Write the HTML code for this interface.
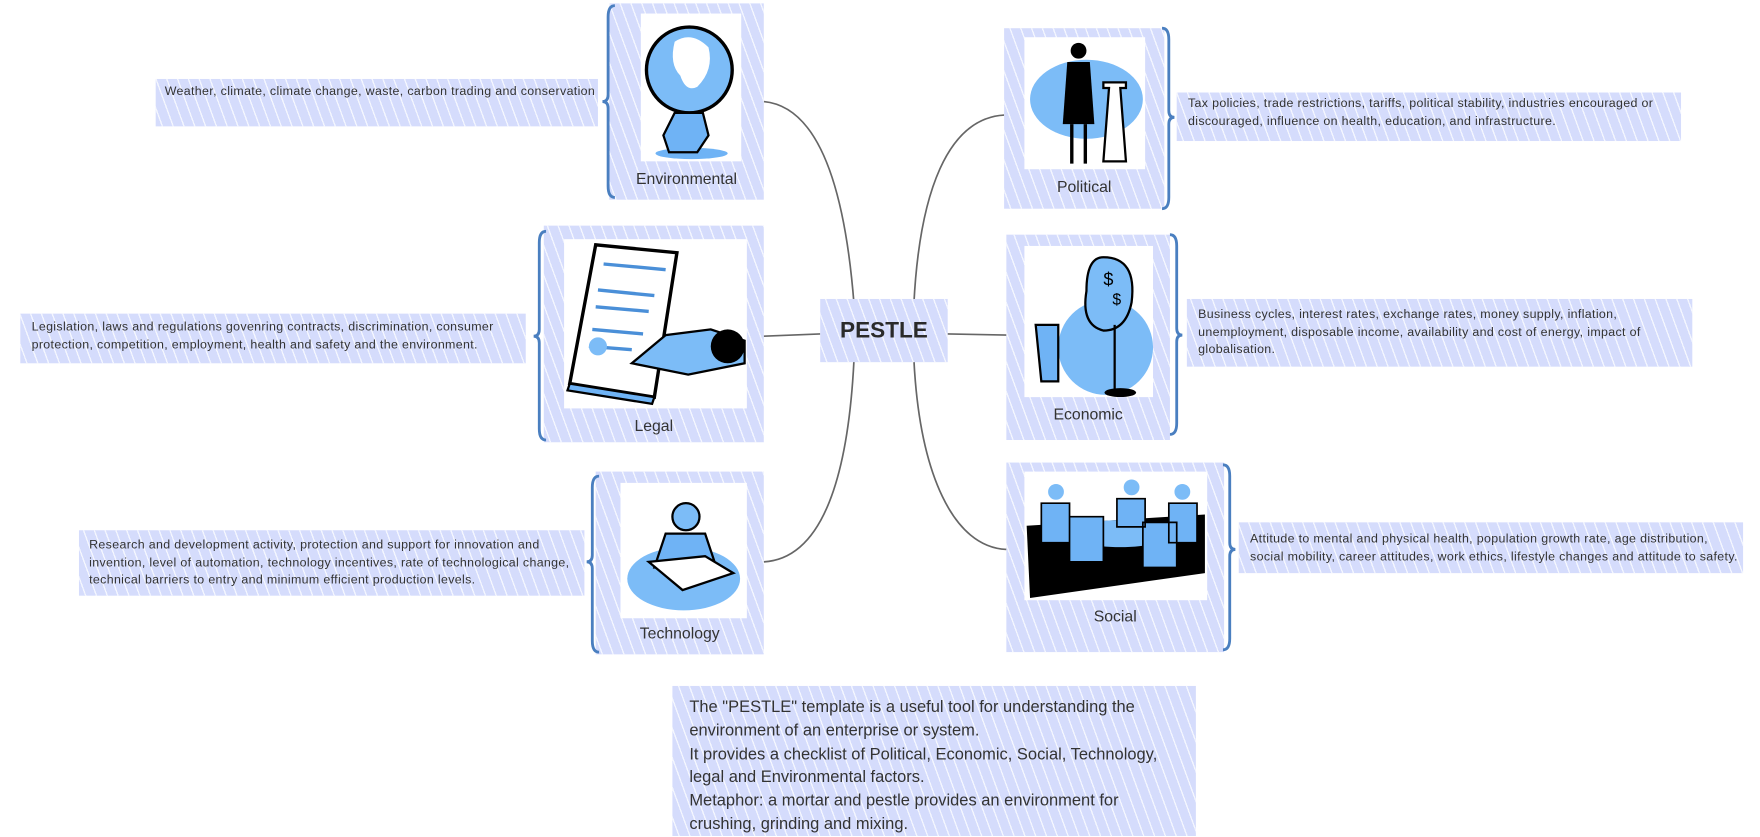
<!DOCTYPE html>
<html><head><meta charset="utf-8">
<style>
html,body{margin:0;padding:0;background:#fff;width:1760px;height:836px;overflow:hidden}
#wrap{position:absolute;left:0;top:0;width:1560px;height:741px;transform:scale(1.1282);transform-origin:0 0;font-family:"Liberation Sans","DejaVu Sans",sans-serif;color:#333}
.h{position:absolute;background-color:#d5dcfc;background-image:repeating-linear-gradient(70deg,rgba(255,255,255,0) 0 5px,rgba(255,255,255,.75) 5px 6.2px,rgba(255,255,255,0) 6.2px 9px);}
.img{position:absolute;background:#fff;overflow:hidden}
.lbl{position:absolute;font-size:14px;text-align:center;color:#333}
.t{position:absolute;font-size:11px;line-height:15.5px;color:#333;letter-spacing:.3px;white-space:nowrap}
svg{position:absolute;left:0;top:0}
</style></head><body><div id="wrap">
<svg width="1560" height="741" style="z-index:0">
<g fill="none" stroke="#666" stroke-width="1.5">
<path d="M757,270 C750,180 730,95 677,90"/>
<path d="M810,270 C815,170 840,105 890,102"/>
<path d="M677,298 L727,296"/>
<path d="M840,296 L892,297"/>
<path d="M757,318 C752,420 730,495 677,498"/>
<path d="M810,318 C815,420 845,485 892,487"/>
</g>
</svg>

<!-- center -->
<div class="h" style="left:727px;top:265px;width:113px;height:56px"></div>
<div style="position:absolute;left:727px;top:282px;width:113px;text-align:center;font-weight:bold;font-size:20px;color:#2a2a2a">PESTLE</div>

<!-- Environmental -->
<div class="h" style="left:138px;top:70px;width:392px;height:42px"></div>
<div class="t" style="left:146px;top:74px">Weather, climate, climate change, waste, carbon trading and conservation</div>
<div class="h" style="left:540px;top:3px;width:137px;height:174px"></div>
<div class="img" style="left:568px;top:12px;width:89px;height:131px">
<svg width="89" height="131"><ellipse cx="45" cy="124" rx="32" ry="5" fill="#6fb3f5"/><circle cx="43" cy="50" r="38" fill="#7cbcf7" stroke="#000" stroke-width="3"/><path d="M30,25 q15,-10 30,5 q5,20 -10,35 q-10,5 -15,-10 q-10,-10 -5,-30z" fill="#fff"/><path d="M30,88 l-10,20 l5,15 h25 l10,-15 l-5,-20z" fill="#6fb3f5" stroke="#000" stroke-width="2"/></svg></div>
<div class="lbl" style="left:540px;top:150px;width:137px">Environmental</div>

<!-- Political -->
<div class="h" style="left:1043px;top:82px;width:447px;height:43px"></div>
<div class="t" style="left:1053px;top:85px">Tax policies, trade restrictions, tariffs, political stability, industries encouraged or<br>discouraged, influence on health, education, and infrastructure.</div>
<div class="h" style="left:890px;top:25px;width:142px;height:160px"></div>
<div class="img" style="left:908px;top:33px;width:107px;height:117px">
<svg width="107" height="117"><ellipse cx="55" cy="55" rx="50" ry="35" fill="#7cbcf7"/><circle cx="48" cy="12" r="7" fill="#000"/><path d="M38,22 h20 l4,55 h-28z" fill="#000"/><path d="M42,77 v35 M54,77 v35" stroke="#000" stroke-width="3"/><path d="M70,40 h20 v5 h-5 l5,65 h-20 l5,-65 h-5z" fill="#fff" stroke="#000" stroke-width="2"/></svg></div>
<div class="lbl" style="left:890px;top:157px;width:142px">Political</div>

<!-- Legal -->
<div class="h" style="left:18px;top:278px;width:448px;height:44px"></div>
<div class="t" style="left:28px;top:283px">Legislation, laws and regulations govenring contracts, discrimination, consumer<br>protection, competition, employment, health and safety and the environment.</div>
<div class="h" style="left:482px;top:200px;width:195px;height:192px"></div>
<div class="img" style="left:500px;top:212px;width:162px;height:150px">
<svg width="162" height="150"><path d="M28,5 L100,12 L80,140 L5,128z" fill="#fff" stroke="#000" stroke-width="3"/><path d="M5,128 L80,140 L78,146 L3,134z" fill="#6fb3f5" stroke="#000" stroke-width="2"/><path d="M35,22 L90,27 M30,45 L80,50 M28,60 L75,64 M25,80 L70,84 M22,95 L60,98" stroke="#4a8fd8" stroke-width="3"/><circle cx="30" cy="95" r="8" fill="#7cbcf7"/><path d="M60,110 L90,85 L130,80 L160,90 L160,110 L110,120z" fill="#7cbcf7" stroke="#000" stroke-width="2"/><ellipse cx="145" cy="95" rx="15" ry="15" fill="#000"/></svg></div>
<div class="lbl" style="left:482px;top:369px;width:195px">Legal</div>

<!-- Economic -->
<div class="h" style="left:1052px;top:265px;width:448px;height:60px"></div>
<div class="t" style="left:1062px;top:272px">Business cycles, interest rates, exchange rates, money supply, inflation,<br>unemployment, disposable income, availability and cost of energy, impact of<br>globalisation.</div>
<div class="h" style="left:892px;top:208px;width:145px;height:182px"></div>
<div class="img" style="left:908px;top:218px;width:114px;height:134px">
<svg width="114" height="134"><circle cx="72" cy="90" r="42" fill="#7cbcf7"/><path d="M70,10 q30,0 25,40 q-5,25 -25,25 q-20,-5 -15,-35 q0,-30 15,-30z" fill="#7cbcf7" stroke="#000" stroke-width="2"/><text x="70" y="35" font-size="16" font-family="Liberation Sans">$</text><text x="78" y="52" font-size="14" font-family="Liberation Sans">$</text><path d="M80,70 V130" stroke="#000" stroke-width="2"/><ellipse cx="85" cy="130" rx="14" ry="4" fill="#000"/><path d="M10,70 h20 v50 h-15z" fill="#6fb3f5" stroke="#000" stroke-width="2"/></svg></div>
<div class="lbl" style="left:892px;top:359px;width:145px">Economic</div>

<!-- Technology -->
<div class="h" style="left:70px;top:470px;width:448px;height:58px"></div>
<div class="t" style="left:79px;top:476px">Research and development activity, protection and support for innovation and<br>invention, level of automation, technology incentives, rate of technological change,<br>technical barriers to entry and minimum efficient production levels.</div>
<div class="h" style="left:528px;top:418px;width:149px;height:162px"></div>
<div class="img" style="left:550px;top:428px;width:112px;height:120px">
<svg width="112" height="120"><ellipse cx="56" cy="85" rx="50" ry="28" fill="#7cbcf7"/><circle cx="58" cy="30" r="12" fill="#7cbcf7" stroke="#000" stroke-width="2"/><path d="M40,45 h35 l10,30 h-55z" fill="#6fb3f5" stroke="#000" stroke-width="2"/><path d="M25,70 l50,-5 l25,15 l-45,15z" fill="#fff" stroke="#000" stroke-width="2"/></svg></div>
<div class="lbl" style="left:528px;top:553px;width:149px">Technology</div>

<!-- Social -->
<div class="h" style="left:1098px;top:463px;width:447px;height:45px"></div>
<div class="t" style="left:1108px;top:471px">Attitude to mental and physical health, population growth rate, age distribution,<br>social mobility, career attitudes, work ethics, lifestyle changes and attitude to safety.</div>
<div class="h" style="left:892px;top:410px;width:193px;height:168px"></div>
<div class="img" style="left:908px;top:418px;width:162px;height:114px">
<svg width="162" height="114"><path d="M2,48 L160,38 L160,90 L5,112z" fill="#000"/><ellipse cx="85" cy="55" rx="45" ry="12" fill="#7cbcf7"/><circle cx="28" cy="18" r="7" fill="#7cbcf7"/><circle cx="95" cy="14" r="7" fill="#7cbcf7"/><circle cx="140" cy="18" r="7" fill="#7cbcf7"/><path d="M15,28 h25 v35 h-25z M82,24 h25 v25 h-25z M128,28 h25 v35 h-25z M40,40 h30 v40 h-30z M105,45 h30 v40 h-30z" fill="#6fb3f5" stroke="#000" stroke-width="1.5"/></svg></div>
<div class="lbl" style="left:892px;top:538px;width:193px">Social</div>

<!-- note -->
<div class="h" style="left:596px;top:608px;width:464px;height:133px"></div>
<div style="position:absolute;left:611px;top:617px;font-size:14.6px;line-height:20.8px;color:#333;white-space:nowrap">The "PESTLE" template is a useful tool for understanding the<br>environment of an enterprise or system.<br>It provides a checklist of Political, Economic, Social, Technology,<br>legal and Environmental factors.<br>Metaphor: a mortar and pestle provides an environment for<br>crushing, grinding and mixing.</div>

<svg width="1560" height="741" style="z-index:2;pointer-events:none">
<g fill="none" stroke="#4a7fc0" stroke-width="2.5">
<path d="M545,5 Q539,5 539,15 L539,84 Q539,90 534,90 Q539,90 539,96 L539,165 Q539,175 545,175"/>
<path d="M484,205 Q478,205 478,215 L478,292 Q478,298 473,298 Q478,298 478,304 L478,380 Q478,390 484,390"/>
<path d="M531,422 Q525,422 525,432 L525,492 Q525,498 520,498 Q525,498 525,504 L525,568 Q525,578 531,578"/>
<path d="M1030,25 Q1036,25 1036,35 L1036,98 Q1036,104 1041,104 Q1036,104 1036,110 L1036,175 Q1036,185 1030,185"/>
<path d="M1037,208 Q1043,208 1043,218 L1043,291 Q1043,297 1048,297 Q1043,297 1043,303 L1043,375 Q1043,385 1037,385"/>
<path d="M1084,412 Q1090,412 1090,422 L1090,481 Q1090,487 1095,487 Q1090,487 1090,493 L1090,566 Q1090,576 1084,576"/>
</g></svg>
</div></body></html>
